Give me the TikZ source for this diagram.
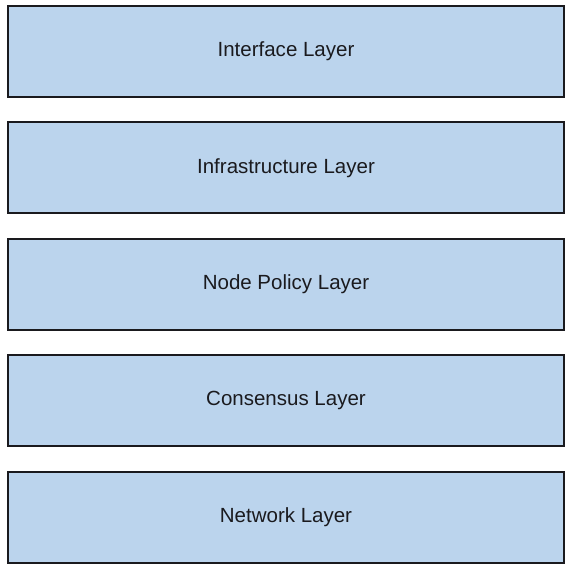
\documentclass[tikz,border=0pt]{standalone}
\usepackage{fontspec}
\setmainfont{Liberation Sans}
\usepackage{xcolor}
\usetikzlibrary{positioning}
\definecolor{layerblue}{RGB}{187,212,237}
\definecolor{layerline}{RGB}{26,26,30}

\begin{document}
\begin{tikzpicture}[x=1pt,y=1pt,
  layer/.style={draw=layerline,fill=layerblue,line width=2pt,minimum width=556pt,
    minimum height=91pt,inner sep=0pt,font=\fontsize{20.5}{24}\selectfont,text=layerline},
  node distance=23.4pt]
\useasboundingbox (0,0) rectangle (572,569);
\node[layer] (iface) at (286,517.5) {Interface Layer};
\node[layer,below=of iface] (infra) {Infrastructure Layer};
\node[layer,below=of infra] (policy) {Node Policy Layer};
\node[layer,below=of policy] (consensus) {Consensus Layer};
\node[layer,below=of consensus] (network) {Network Layer};
\end{tikzpicture}
\end{document}
